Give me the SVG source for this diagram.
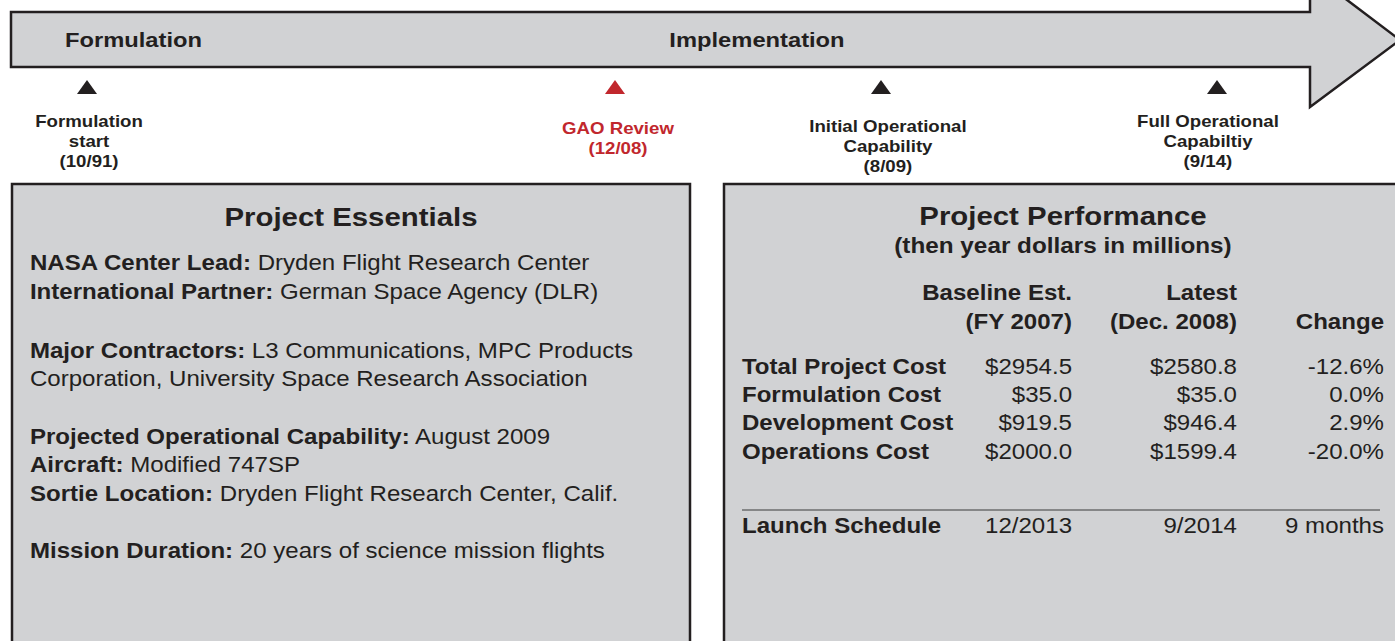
<svg xmlns="http://www.w3.org/2000/svg" width="1395" height="641" viewBox="0 0 1395 641">
<style>
text{font-family:"Liberation Sans",Arial,sans-serif;fill:#231f20}
.b{font-weight:bold}
.ms{font-size:16.5px;font-weight:bold;text-anchor:middle}
.red{fill:#c1272d}
.box{fill:#d1d2d4;stroke:#231f20;stroke-width:2.5}
.t{font-size:21.3px}
.h{font-size:26px;font-weight:bold;text-anchor:middle}
.r{text-anchor:end}
</style>
<rect width="1395" height="641" fill="#ffffff"/>
<g id="timeline-arrow">
<path d="M11,12 H1310 V-28 L1400,40 L1310,107 V67 H11 Z" fill="#d1d2d4" stroke="#231f20" stroke-width="2.5"/>
<g transform="scale(1.13,1)">
<text x="57.5" y="47" class="b" font-size="21">Formulation</text>
<text x="669.9" y="47" class="b" font-size="21" text-anchor="middle">Implementation</text>
</g>
</g>
<g id="m-formulation">
<path d="M87,80 L97,94 L77,94 Z" fill="#231f20"/>
<text class="ms" transform="scale(1.13,1)"><tspan x="78.8" y="127">Formulation</tspan><tspan x="78.8" y="147">start</tspan><tspan x="78.8" y="167">(10/91)</tspan></text>
</g>
<g id="m-gao">
<path d="M615,80 L625,94 L605,94 Z" fill="#c1272d"/>
<text class="ms red" transform="scale(1.13,1)"><tspan x="546.9" y="134">GAO Review</tspan><tspan x="546.9" y="154">(12/08)</tspan></text>
</g>
<g id="m-ioc">
<path d="M881,80 L891,94 L871,94 Z" fill="#231f20"/>
<text class="ms" transform="scale(1.13,1)"><tspan x="785.8" y="132">Initial Operational</tspan><tspan x="785.8" y="152">Capability</tspan><tspan x="785.8" y="172">(8/09)</tspan></text>
</g>
<g id="m-foc">
<path d="M1217,80 L1227,94 L1207,94 Z" fill="#231f20"/>
<text class="ms" transform="scale(1.13,1)"><tspan x="1069" y="127">Full Operational</tspan><tspan x="1069" y="147">Capabiltiy</tspan><tspan x="1069" y="167">(9/14)</tspan></text>
</g>
<g id="project-essentials">
<rect class="box" x="12" y="184" width="678" height="470"/>
<g transform="scale(1.13,1)">
<text x="310.6" y="226" class="h">Project Essentials</text>
<text class="t" x="26.5" y="270"><tspan class="b">NASA Center Lead:</tspan> Dryden Flight Research Center</text>
<text class="t" x="26.5" y="299"><tspan class="b">International Partner:</tspan> German Space Agency (DLR)</text>
<text class="t" x="26.5" y="358"><tspan class="b">Major Contractors:</tspan> L3 Communications, MPC Products</text>
<text class="t" x="26.5" y="386">Corporation, University Space Research Association</text>
<text class="t" x="26.5" y="444"><tspan class="b">Projected Operational Capability:</tspan> August 2009</text>
<text class="t" x="26.5" y="472"><tspan class="b">Aircraft:</tspan> Modified 747SP</text>
<text class="t" x="26.5" y="501"><tspan class="b">Sortie Location:</tspan> Dryden Flight Research Center, Calif.</text>
<text class="t" x="26.5" y="558"><tspan class="b">Mission Duration:</tspan> 20 years of science mission flights</text>
</g>
</g>
<g id="project-performance">
<rect class="box" x="724" y="184" width="690" height="470"/>
<line x1="742" y1="510" x2="1380" y2="510" stroke="#3a3a3a" stroke-width="1.2"/>
<g transform="scale(1.13,1)">
<text x="940.7" y="225" class="h">Project Performance</text>
<text x="940.7" y="253" class="b" font-size="21.5" text-anchor="middle">(then year dollars in millions)</text>
<text x="948.7" y="300" class="t b r">Baseline Est.</text>
<text x="948.7" y="329" class="t b r">(FY 2007)</text>
<text x="1094.7" y="300" class="t b r">Latest</text>
<text x="1094.7" y="329" class="t b r">(Dec. 2008)</text>
<text x="1224.8" y="329" class="t b r">Change</text>
<text x="656.6" y="374" class="t b">Total Project Cost</text>
<text x="656.6" y="402" class="t b">Formulation Cost</text>
<text x="656.6" y="430" class="t b">Development Cost</text>
<text x="656.6" y="459" class="t b">Operations Cost</text>
<text x="656.6" y="533" class="t b">Launch Schedule</text>
<text x="948.7" y="374" class="t r">$2954.5</text>
<text x="948.7" y="402" class="t r">$35.0</text>
<text x="948.7" y="430" class="t r">$919.5</text>
<text x="948.7" y="459" class="t r">$2000.0</text>
<text x="948.7" y="533" class="t r">12/2013</text>
<text x="1094.7" y="374" class="t r">$2580.8</text>
<text x="1094.7" y="402" class="t r">$35.0</text>
<text x="1094.7" y="430" class="t r">$946.4</text>
<text x="1094.7" y="459" class="t r">$1599.4</text>
<text x="1094.7" y="533" class="t r">9/2014</text>
<text x="1224.8" y="374" class="t r">-12.6%</text>
<text x="1224.8" y="402" class="t r">0.0%</text>
<text x="1224.8" y="430" class="t r">2.9%</text>
<text x="1224.8" y="459" class="t r">-20.0%</text>
<text x="1224.8" y="533" class="t r">9 months</text>
</g>
</g>
</svg>
